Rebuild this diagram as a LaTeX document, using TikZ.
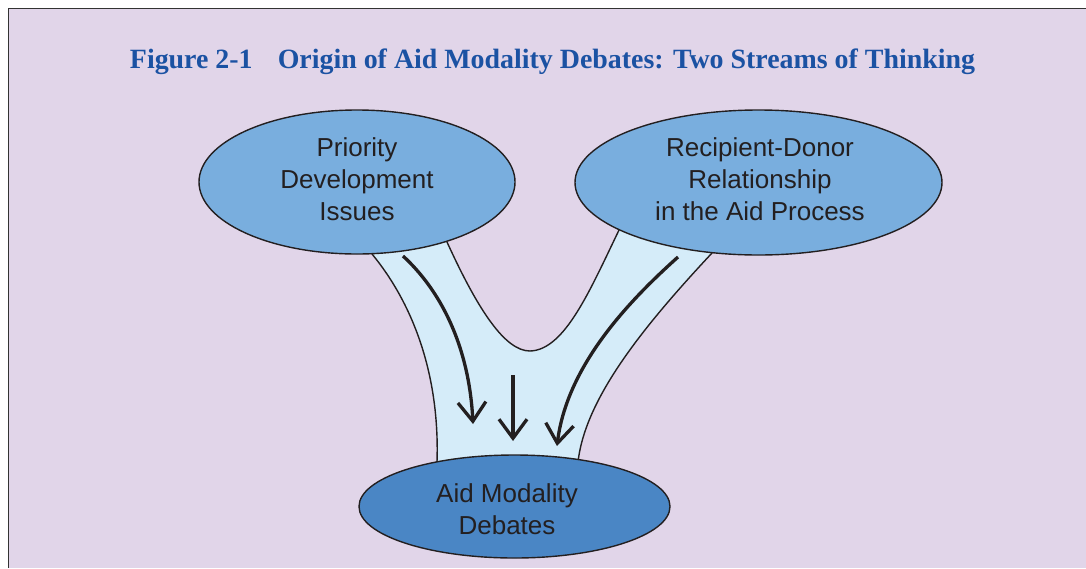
\documentclass[tikz,border=0pt]{standalone}
\usepackage{fontspec}
\setmainfont{Liberation Serif}
\setsansfont{Liberation Sans}
\usetikzlibrary{arrows.meta,shapes.geometric}
\definecolor{bgpurple}{HTML}{E1D5E9}
\definecolor{topblue}{HTML}{79AEDE}
\definecolor{botblue}{HTML}{4A86C5}
\definecolor{funnelblue}{HTML}{D5ECF9}
\definecolor{titleblue}{HTML}{1B52A3}
\definecolor{ink}{HTML}{231F20}
\tikzset{
  bubble/.style={ellipse, draw=ink, line width=1.4pt, inner sep=0pt},
  bubbletext/.style={font=\sffamily\fontsize{26}{32}\selectfont, text=ink, align=center, inner sep=0pt},
  flowarrow/.style={draw=ink, line width=3.3pt,
    -{Straight Barb[length=19pt,width=28pt,line width=3.3pt]}},
}
\begin{document}
\begin{tikzpicture}[x=1pt,y=-1pt]
\useasboundingbox (0,0) rectangle (1086,568);
\fill[white] (0,0) rectangle (1086,568);
\fill[bgpurple] (8.5,8.5) rectangle (1086,568);
\draw[line width=1.6pt, draw=black!80] (8.5,568) -- (8.5,8.5) -- (1086,8.5);
\node[font=\bfseries\fontsize{27.9}{32}\selectfont, text=titleblue] (title) at (552.5,62)
  {Figure 2-1\hspace{0.9em}Origin of Aid Modality Debates: Two Streams of Thinking};
% funnel
\coordinate (lo1) at (372,254);
\coordinate (lo2) at (437,462);
\coordinate (ro2) at (578,462);
\coordinate (ro1) at (712,253);
\coordinate (ri1) at (620,228);
\coordinate (vb) at (530,351);
\coordinate (li1) at (447,242);
\fill[funnelblue] (lo1) .. controls (410,300) and (440,370) .. (lo2) -- (ro2)
  .. controls (585,400) and (640,330) .. (ro1) -- (ri1)
  .. controls (590,290) and (565,350) .. (vb)
  .. controls (505,351) and (478,310) .. (li1) -- cycle;
\draw[ink, line width=1.4pt] (lo1) .. controls (410,300) and (440,370) .. (lo2);
\draw[ink, line width=1.4pt] (ro2) .. controls (585,400) and (640,330) .. (ro1);
\draw[ink, line width=1.4pt] (ri1) .. controls (590,290) and (565,350) .. (vb)
  .. controls (505,351) and (478,310) .. (li1);
% arrows
\coordinate (a1s) at (403,256);
\coordinate (a1e) at (473,424);
\coordinate (a2s) at (513,375);
\coordinate (a2e) at (513,441);
\coordinate (a3s) at (678,257);
\coordinate (a3e) at (557,446);
\draw[flowarrow] (a1s) .. controls (440,290) and (469,345) .. (a1e);
\draw[flowarrow] (a2s) -- (a2e);
\draw[flowarrow] (a3s) .. controls (630,300) and (567,365) .. (a3e);
% ellipses
\node[bubble, fill=topblue, minimum width=316pt, minimum height=144pt] (pdi) at (357,182) {};
\node[bubbletext] (pdit) at (357,179) {Priority\\Development\\Issues};
\node[bubble, fill=topblue, minimum width=367pt, minimum height=145pt] (rdr) at (758.5,182.5) {};
\node[bubbletext] (rdrt) at (760,179) {Recipient-Donor\\Relationship\\in the Aid Process};
\node[bubble, fill=botblue, minimum width=311pt, minimum height=103pt] (amd) at (514.5,506.5) {};
\node[bubbletext] (amdt) at (507,509) {Aid Modality\\Debates};
\end{tikzpicture}
\end{document}
